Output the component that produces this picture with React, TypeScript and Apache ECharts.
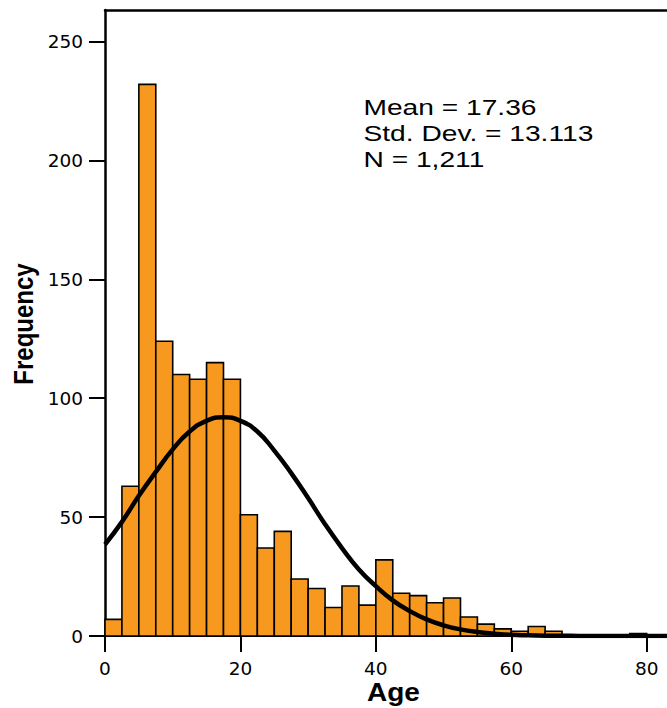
import React, { useEffect, useRef } from "react";
import * as echarts from "echarts";

// Histogram bins (Age), bin width 2.5
const BIN_START = [0, 2.5, 5, 7.5, 10, 12.5, 15, 17.5, 20, 22.5, 25, 27.5, 30, 32.5, 35, 37.5, 40, 42.5, 45, 47.5, 50, 52.5, 55, 57.5, 60, 62.5, 65, 67.5, 70, 72.5, 75, 77.5];
const BIN_END = [2.5, 5, 7.5, 10, 12.5, 15, 17.5, 20, 22.5, 25, 27.5, 30, 32.5, 35, 37.5, 40, 42.5, 45, 47.5, 50, 52.5, 55, 57.5, 60, 62.5, 65, 67.5, 70, 72.5, 75, 77.5, 80];
const COUNTS = [7, 63, 232, 124, 110, 108, 115, 108, 51, 37, 44, 24, 20, 12, 21, 13, 32, 18, 17, 14, 16, 8, 5, 3, 2, 4, 2, 0, 0, 0, 0, 1];

// Normal curve
const CURVE_X = [0, 2.5, 5, 7.5, 10, 12.5, 15, 17.5, 20, 22.5, 25, 27.5, 30, 32.5, 35, 37.5, 40, 42.5, 45, 47.5, 50, 52.5, 55, 57.5, 60, 62.5, 65, 67.5, 70, 72.5, 75, 77.5, 80, 83];
const CURVE_Y = [38.5, 48, 59, 69, 78.5, 86, 90.5, 92, 90.5, 86, 78, 68.5, 58, 47, 37, 28, 21, 15, 10.5, 7, 4.5, 2.8, 1.7, 1, 0.5, 0.3, 0.15, 0.08, 0.04, 0.02, 0.01, 0, 0, 0];

const X_TICKS = [0, 20, 40, 60, 80];
const Y_TICKS = [0, 50, 100, 150, 200, 250];
const STATS = ["Mean = 17.36", "Std. Dev. = 13.113", "N = 1,211"];
const X_NAME = "Age";
const Y_NAME = "Frequency";

const BAR_COLOR = "#F7991F";

export default function App() {
  const ref = useRef<HTMLDivElement>(null);
  useEffect(() => {
    const chart = echarts.init(ref.current!, null, { renderer: "svg" });
    const barData = BIN_START.map((s, i) => [s, BIN_END[i], COUNTS[i]]);
    const curveData = CURVE_X.map((x, i) => [x, CURVE_Y[i]]);
    const tickLabelStyle = {
      fontFamily: "DejaVu Sans",
      fontSize: 18.5,
      color: "#000",
    };
    chart.setOption({
      animation: false,
      backgroundColor: "#fff",
      grid: { left: 105, right: 0, top: 10, bottom: 72, containLabel: false },
      xAxis: [
        {
          type: "value",
          min: 0,
          max: 83,
          position: "bottom",
          axisLine: { show: true, lineStyle: { color: "#000", width: 2 } },
          axisTick: { show: true, customValues: X_TICKS, length: 16, lineStyle: { color: "#000", width: 2 } },
          axisLabel: { customValues: X_TICKS, margin: 23, ...tickLabelStyle },
          splitLine: { show: false },
        },
        {
          type: "value",
          min: 0,
          max: 83,
          position: "top",
          axisLine: { show: true, onZero: false, lineStyle: { color: "#000", width: 2.5 } },
          axisTick: { show: false },
          axisLabel: { show: false },
          splitLine: { show: false },
        },
      ],
      yAxis: {
        type: "value",
        min: 0,
        max: 263.3,
        axisLine: { show: true, lineStyle: { color: "#000", width: 2.5 } },
        axisTick: { show: true, customValues: Y_TICKS, length: 16, lineStyle: { color: "#000", width: 2 } },
        axisLabel: { customValues: Y_TICKS, margin: 22, ...tickLabelStyle },
        splitLine: { show: false },
      },
      series: [
        {
          type: "custom",
          xAxisIndex: 0,
          data: barData,
          encode: { x: [0, 1], y: 2 },
          z: 2,
          renderItem: (params: any, api: any) => {
            const x0 = api.value(0);
            const x1 = api.value(1);
            const c = api.value(2);
            if (!c) return null;
            const p0 = api.coord([x0, 0]);
            const p1 = api.coord([x1, c]);
            return {
              type: "rect",
              shape: { x: p0[0], y: p1[1], width: p1[0] - p0[0], height: p0[1] - p1[1] },
              style: { fill: BAR_COLOR, stroke: "#000", lineWidth: 1.6 },
            };
          },
        },
        {
          type: "line",
          xAxisIndex: 0,
          data: curveData,
          smooth: true,
          showSymbol: false,
          symbol: "none",
          z: 3,
          lineStyle: { color: "#000", width: 4.5 },
        },
      ],
      graphic: [
        ...STATS.map((t, i) => ({
          type: "text",
          x: 363.5,
          y: 107.5 + i * 26,
          scaleX: 1.31,
          z: 10,
          style: {
            text: t,
            fontFamily: "Liberation Sans",
            fontSize: 21.5,
            fill: "#000",
            textAlign: "left",
            textVerticalAlign: "middle",
          },
        })),
        {
          type: "text",
          x: 393.5,
          y: 692.5,
          scaleX: 1.12,
          z: 10,
          style: {
            text: X_NAME,
            fontFamily: "Liberation Sans",
            fontWeight: "bold",
            fontSize: 25,
            fill: "#000",
            textAlign: "center",
            textVerticalAlign: "middle",
          },
        },
        {
          type: "text",
          x: 23.5,
          y: 324,
          rotation: Math.PI / 2,
          scaleY: 1.16,
          z: 10,
          style: {
            text: Y_NAME,
            fontFamily: "Liberation Sans",
            fontWeight: "bold",
            fontSize: 24,
            fill: "#000",
            textAlign: "center",
            textVerticalAlign: "middle",
          },
        },
      ],
    });
    return () => chart.dispose();
  }, []);
  return (
    <div
      ref={ref}
      style={{ position: "absolute", left: 0, top: 0, width: 667, height: 708 }}
    />
  );
}
